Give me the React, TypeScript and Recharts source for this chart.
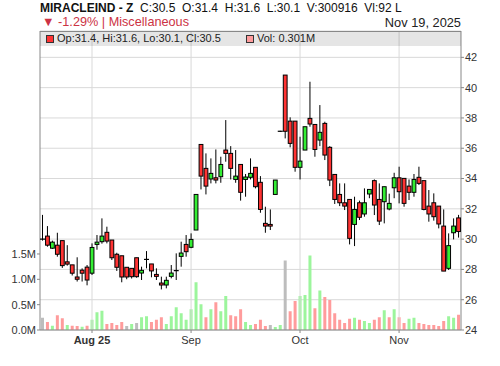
import { ComposedChart, Bar, Cell, XAxis, YAxis, CartesianGrid, ReferenceLine } from "recharts";

// daily OHLC (INR), one entry per trading session
const opens = [
  30.0, 30.2, 29.4, 29.6, 29.9, 28.5, 28.3, 27.5, 27.95, 28.15,
  27.75, 29.65, 29.83, 30.45, 29.94, 29.0, 28.9, 28.14, 28.07, 28.77,
  27.76, 28.66, 28.36, 27.67, 27.1, 26.97, 27.54, 27.88, 28.86, 29.65,
  29.46, 30.6, 36.25, 34.67, 33.97, 34.05, 34.12, 35.88, 35.66, 33.94,
  34.93, 33.94, 34.08, 34.74, 33.75, 31.04, 30.97, 32.95, 37.12, 40.83,
  37.79, 37.79, 34.74, 35.88, 37.97, 37.57, 36.54, 37.64, 36.06, 34.27,
  32.95, 32.4, 32.62, 30.97, 32.4, 31.66, 32.98, 33.86, 32.62, 32.47,
  31.99, 33.39, 34.05, 34.01, 33.5, 33.09, 34.08, 33.86, 32.18, 32.4,
  32.18, 30.86, 28.07, 30.42, 31.4,
];
const highs = [
  31.6, 30.86, 29.9, 30.42, 29.9, 29.6, 28.3, 28.8, 28.07, 28.29,
  29.72, 30.27, 31.37, 30.82, 29.94, 29.1, 28.9, 28.14, 28.07, 28.77,
  28.18, 29.21, 28.36, 28.07, 27.52, 27.52, 28.29, 29.06, 29.83, 30.27,
  30.38, 32.95, 36.25, 35.66, 35.33, 35.92, 35.44, 37.86, 36.14, 35.88,
  34.93, 34.3, 35.33, 34.74, 34.16, 32.14, 31.96, 33.9, 37.15, 40.83,
  38.04, 37.79, 36.76, 37.42, 40.39, 37.57, 38.85, 37.75, 36.14, 34.27,
  33.68, 33.68, 32.62, 32.8, 32.54, 33.35, 33.28, 33.94, 33.68, 33.46,
  33.0, 34.38, 34.78, 34.01, 33.94, 34.3, 34.78, 33.86, 33.24, 33.02,
  32.18, 31.96, 30.38, 31.37, 31.6,
];
const lows = [
  29.9, 29.5, 29.35, 28.84, 28.1, 28.25, 27.6, 27.2, 27.2, 26.95,
  27.63, 29.3, 29.7, 29.72, 28.62, 27.9, 27.15, 27.35, 27.4, 27.45,
  27.3, 28.07, 27.48, 27.3, 26.68, 26.75, 27.41, 27.3, 28.18, 28.84,
  29.4, 30.6, 33.28, 32.95, 33.68, 33.68, 33.72, 35.11, 33.94, 33.72,
  32.54, 32.8, 33.94, 33.35, 31.74, 30.42, 30.6, 32.95, 37.08, 36.65,
  36.06, 34.45, 33.94, 35.88, 37.42, 35.44, 36.14, 35.22, 33.5, 32.32,
  32.18, 31.92, 29.65, 29.54, 31.26, 31.48, 32.7, 31.59, 30.93, 31.04,
  31.9, 32.7, 32.36, 32.14, 32.58, 32.8, 33.57, 31.9, 31.15, 31.22,
  30.71, 27.89, 27.96, 29.98, 30.1,
];
const closes = [
  30.0, 29.6, 29.8, 29.0, 28.25, 28.35, 27.75, 27.35, 27.75, 27.3,
  29.45, 29.8, 30.2, 29.87, 28.77, 28.14, 27.5, 27.5, 27.52, 27.52,
  27.94, 28.66, 27.9, 27.54, 26.97, 27.28, 27.76, 27.92, 29.08, 29.17,
  29.98, 32.95, 34.16, 33.5, 34.34, 33.9, 34.93, 35.66, 34.67, 34.16,
  33.09, 34.1, 34.34, 33.46, 31.96, 30.86, 30.86, 33.9, 37.12, 37.12,
  36.32, 34.74, 35.15, 37.42, 37.6, 35.92, 37.05, 35.55, 33.9, 32.62,
  32.4, 32.18, 30.05, 31.96, 31.44, 32.4, 33.28, 32.25, 31.19, 33.46,
  32.36, 34.05, 33.13, 32.36, 33.09, 33.94, 33.68, 31.96, 31.66, 31.48,
  31.0, 27.89, 29.57, 30.86, 30.5,
];
// volume in millions of shares
const volumes = [
  0.24, 0.16, 0.085, 0.29, 0.23, 0.1, 0.085, 0.08, 0.065, 0.085,
  0.2, 0.35, 0.38, 0.12, 0.14, 0.1, 0.16, 0.08, 0.12, 0.14,
  0.25, 0.27, 0.16, 0.2, 0.25, 0.12, 0.27, 0.45, 0.33, 0.2,
  0.41, 0.94, 0.51, 0.25, 0.41, 0.55, 0.37, 0.67, 0.29, 0.27,
  0.41, 0.16, 0.1, 0.12, 0.2, 0.08, 0.1, 0.06, 0.1, 1.37,
  0.37, 0.57, 0.67, 0.69, 1.47, 0.43, 0.78, 0.65, 0.59, 0.33,
  0.2, 0.14, 0.22, 0.24, 0.2, 0.18, 0.14, 0.2, 0.25, 0.39,
  0.25, 0.41, 0.25, 0.14, 0.22, 0.24, 0.14, 0.12, 0.1, 0.1,
  0.08, 0.18, 0.27, 0.24, 0.301,
];
const firstPrevClose = 30.0;

const monthTickIndex = [10, 30, 52, 72];
const monthTickLabel = ["Aug 25", "Sep", "Oct", "Nov"];
const priceTicks = [24, 26, 28, 30, 32, 34, 36, 38, 40, 42];
const volTicks = [0, 0.5, 1.0, 1.5];

const rows = opens.map((o, i) => ({
  day: i,
  open: o,
  high: highs[i],
  low: lows[i],
  close: closes[i],
  vol: volumes[i],
  prev: i === 0 ? firstPrevClose : closes[i - 1],
}));

const FONT = '"Liberation Sans", Arial, sans-serif';
const PRICE_DOMAIN = [24, 43.74];
const VOL_DOMAIN = [0, 5.9];
const AXIS = "#888";
const GRID = "#d9d9d9";

const volColor = (r) =>
  r.close > r.prev ? "#9cf59c" : r.close < r.prev ? "#ff9c9c" : "#bdbdbd";

const Candle = (props) => {
  const { x, y, width, height, payload } = props;
  const { open, close, high, low } = payload;
  const span = high - low;
  const h = Math.abs(height);
  const top = Math.min(y, y + height);
  const ppu = span > 0 ? h / span : 0;
  const py = (v) => top + (high - v) * ppu;
  const cx = x + width / 2;
  const bTop = py(Math.max(open, close));
  const bBot = py(Math.min(open, close));
  const up = close >= open;
  const bw = 3.8;
  return (
    <g>
      <line x1={cx} x2={cx} y1={py(high)} y2={py(low)} stroke="#000" strokeWidth={1} />
      {bBot - bTop < 1 ? (
        <line x1={cx - 2.5} x2={cx + 2.5} y1={bTop} y2={bTop} stroke="#000" strokeWidth={1.2} />
      ) : (
        <rect
          x={cx - bw / 2}
          y={bTop}
          width={bw}
          height={bBot - bTop}
          fill={up ? "#33ee33" : "#ff3333"}
          stroke="#000"
          strokeWidth={1}
        />
      )}
    </g>
  );
};

const MonthTick = (props) => {
  const { x, y, payload } = props;
  const k = monthTickIndex.indexOf(payload.value);
  if (k < 0) return <g />;
  return (
    <g>
      <line x1={x} x2={x} y1={y} y2={y + 3} stroke={AXIS} />
      <text
        x={x}
        y={y + 14}
        textAnchor="middle"
        fontSize={11}
        fontFamily={FONT}
        fontWeight={k === 0 ? 700 : 400}
        fill="#333"
      >
        {monthTickLabel[k]}
      </text>
    </g>
  );
};

export default function App() {
  const tickStyle = { fontSize: 11, fontFamily: FONT, fill: "#333" };
  return (
    <div style={{ position: "absolute", left: 0, top: 0, width: 500, height: 366, background: "#fff", fontFamily: FONT }}>
      {/* header */}
      <div style={{ position: "absolute", left: 40, top: 1, fontSize: 12, color: "#111", whiteSpace: "pre" }}>
        <b>MIRACLEIND - Z</b>
        {"  C:30.5  O:31.4  H:31.6  L:30.1  V:300916  Vl:92 L"}
      </div>
      <div style={{ position: "absolute", left: 42, top: 15, fontSize: 12.7, color: "#cc3344", whiteSpace: "pre" }}>
        {"▼ -1.29% | Miscellaneous"}
      </div>
      <div style={{ position: "absolute", right: 39, top: 15, fontSize: 12.8, color: "#222", whiteSpace: "pre" }}>
        Nov 19, 2025
      </div>

      {/* volume, grid and axes */}
      <div style={{ position: "absolute", left: 0, top: 0 }}>
        <ComposedChart width={500} height={366} data={rows} margin={{ top: 31, right: 0, bottom: 0, left: 0 }} barCategoryGap={0}>
          <CartesianGrid yAxisId="price" vertical={false} stroke={GRID} />
          <XAxis
            dataKey="day"
            height={36}
            interval={0}
            tickLine={false}
            tickSize={0}
            tickMargin={0}
            stroke={AXIS}
            tick={<MonthTick />}
          />
          <YAxis
            yAxisId="vol"
            orientation="left"
            width={40}
            domain={VOL_DOMAIN}
            ticks={volTicks}
            allowDataOverflow
            tickSize={3}
            tickMargin={1}
            stroke={AXIS}
            tick={tickStyle}
            tickFormatter={(v) => `${v.toFixed(1)}M`}
          />
          <YAxis
            yAxisId="price"
            orientation="right"
            width={39}
            domain={PRICE_DOMAIN}
            ticks={priceTicks}
            allowDataOverflow
            tickSize={3}
            tickMargin={1}
            stroke={AXIS}
            tick={tickStyle}
          />
          {monthTickIndex.map((d) => (
            <ReferenceLine key={d} x={d} yAxisId="price" stroke={GRID} strokeWidth={1} />
          ))}
          <Bar yAxisId="vol" dataKey="vol" barSize={3} isAnimationActive={false}>
            {rows.map((r) => (
              <Cell key={r.day} fill={volColor(r)} />
            ))}
          </Bar>
        </ComposedChart>
      </div>

      {/* candles */}
      <div style={{ position: "absolute", left: 0, top: 0 }}>
        <ComposedChart width={500} height={366} data={rows} margin={{ top: 31, right: 39, bottom: 36, left: 40 }} barCategoryGap={0} barGap={0}>
          <XAxis dataKey="day" hide />
          <YAxis yAxisId="price" hide domain={PRICE_DOMAIN} allowDataOverflow />
          <Bar
            yAxisId="price"
            dataKey={(d) => [d.low, d.high]}
            shape={(p) => <Candle {...p} />}
            isAnimationActive={false}
          />
        </ComposedChart>
      </div>

      {/* legend band */}
      <div
        style={{
          position: "absolute",
          left: 40,
          top: 31,
          width: 421,
          height: 15,
          boxSizing: "border-box",
          borderTop: `1px solid ${AXIS}`,
          background: "rgba(0,0,0,0.1)",
          fontSize: 11,
          color: "#222",
          whiteSpace: "pre",
        }}
      >
        <span style={{ position: "absolute", left: 6, top: 3, width: 6, height: 6, background: "#ff3333", border: "1px solid #333" }} />
        <span style={{ position: "absolute", left: 17, top: 0 }}>Op:31.4, Hi:31.6, Lo:30.1, Cl:30.5</span>
        <span style={{ position: "absolute", left: 206, top: 3, width: 6, height: 6, background: "#ff9c9c", border: "1px solid #333" }} />
        <span style={{ position: "absolute", left: 217, top: 0 }}>Vol: 0.301M</span>
      </div>
    </div>
  );
}
